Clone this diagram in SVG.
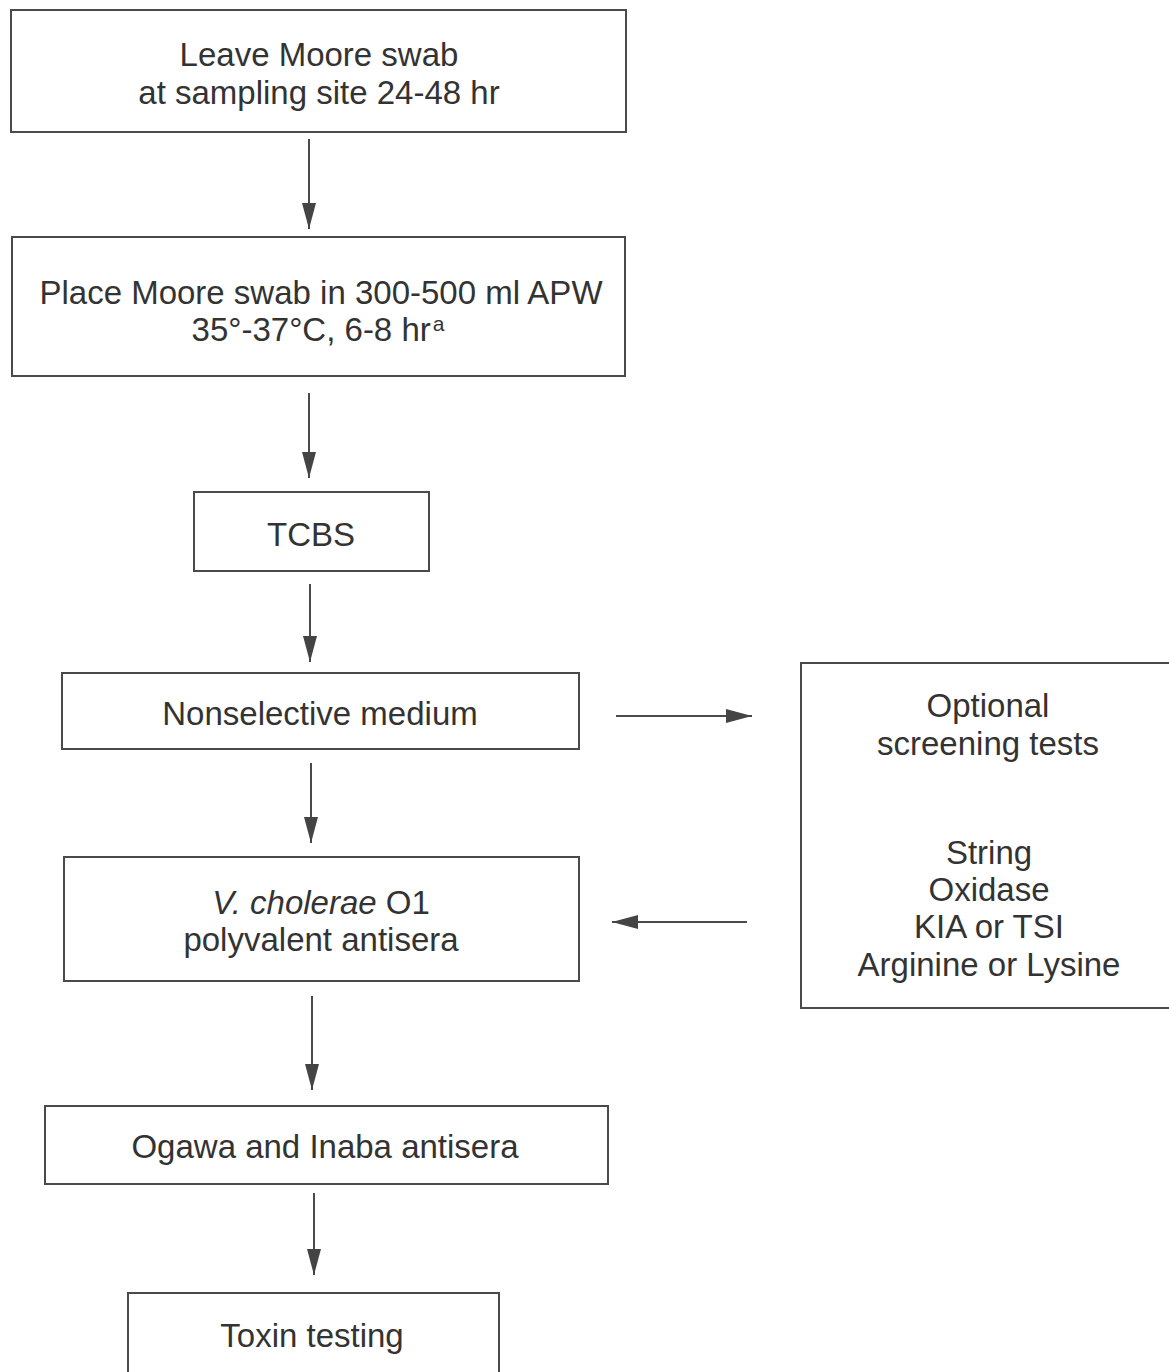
<svg xmlns="http://www.w3.org/2000/svg" width="1169" height="1372" viewBox="0 0 1169 1372">
<defs>
<style>
.box{fill:none;stroke:#4a4a4a;stroke-width:2}
.t{font-family:"Liberation Sans",Arial,sans-serif;font-size:33px;fill:#333;text-anchor:middle}
.c{stroke:#4a4a4a;stroke-width:2;fill:none}
</style>
<marker id="ah" viewBox="0 0 26 14" refX="26" refY="7" markerWidth="26" markerHeight="14" markerUnits="userSpaceOnUse" orient="auto">
<path d="M0,0 L26,7 L0,14 z" fill="#444"/>
</marker>
</defs>
<rect width="1169" height="1372" fill="#fff"/>
<g id="n1"><rect class="box" x="11" y="10" width="615" height="122"/>
<text class="t" x="319" y="66">Leave Moore swab</text>
<text class="t" x="319" y="104">at sampling site 24-48 hr</text></g>
<g id="n2"><rect class="box" x="12" y="237" width="613" height="139"/>
<text class="t" x="321" y="304">Place Moore swab in 300-500 ml APW</text>
<text class="t" x="318" y="341">35°-37°C, 6-8 hr<tspan font-size="21" dx="2" dy="-10">a</tspan></text></g>
<g id="n3"><rect class="box" x="194" y="492" width="235" height="79"/>
<text class="t" x="311" y="546">TCBS</text></g>
<g id="n4"><rect class="box" x="62" y="673" width="517" height="76"/>
<text class="t" x="320" y="725">Nonselective medium</text></g>
<g id="n5"><rect class="box" x="64" y="857" width="515" height="124"/>
<text class="t" x="321" y="914"><tspan font-style="italic">V. cholerae</tspan> O1</text>
<text class="t" x="321" y="951">polyvalent antisera</text></g>
<g id="n6"><rect class="box" x="45" y="1106" width="563" height="78"/>
<text class="t" x="325" y="1158">Ogawa and Inaba antisera</text></g>
<g id="n7"><rect class="box" x="128" y="1293" width="371" height="90"/>
<text class="t" x="312" y="1347">Toxin testing</text></g>
<g id="n8"><rect class="box" x="801" y="663" width="380" height="345"/>
<text class="t" x="988" y="717">Optional</text>
<text class="t" x="988" y="755">screening tests</text>
<text class="t" x="989" y="864">String</text>
<text class="t" x="989" y="901">Oxidase</text>
<text class="t" x="989" y="938">KIA or TSI</text>
<text class="t" x="989" y="976">Arginine or Lysine</text></g>
<g id="connectors">
<line class="c" x1="309" y1="139" x2="309" y2="229" marker-end="url(#ah)"/>
<line class="c" x1="309" y1="393" x2="309" y2="478" marker-end="url(#ah)"/>
<line class="c" x1="310" y1="584" x2="310" y2="662" marker-end="url(#ah)"/>
<line class="c" x1="311" y1="763" x2="311" y2="843" marker-end="url(#ah)"/>
<line class="c" x1="312" y1="996" x2="312" y2="1090" marker-end="url(#ah)"/>
<line class="c" x1="314" y1="1193" x2="314" y2="1275" marker-end="url(#ah)"/>
<line class="c" x1="616" y1="716" x2="752" y2="716" marker-end="url(#ah)"/>
<line class="c" x1="747" y1="922" x2="612" y2="922" marker-end="url(#ah)"/>
</g>
</svg>
